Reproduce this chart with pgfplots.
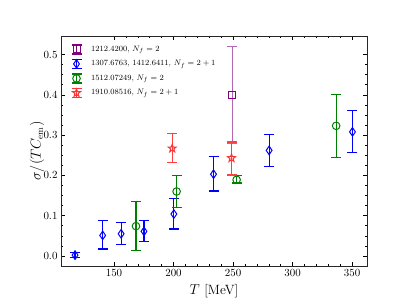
\documentclass[border=0pt]{standalone}
\usepackage{pgfplots}
\pgfplotsset{compat=1.18}
\usetikzlibrary{plotmarks}
\definecolor{mpurple}{RGB}{128,0,128}
\definecolor{mgreen}{RGB}{0,128,0}
\definecolor{mblue}{RGB}{0,0,255}
\definecolor{mred}{RGB}{255,0,0}
\pgfdeclareplotmark{ostar}{%
  \pgfpathmoveto{\pgfpointpolar{90}{\pgfplotmarksize}}%
  \pgfpathlineto{\pgfpointpolar{126}{0.4\pgfplotmarksize}}%
  \pgfpathlineto{\pgfpointpolar{162}{\pgfplotmarksize}}%
  \pgfpathlineto{\pgfpointpolar{198}{0.4\pgfplotmarksize}}%
  \pgfpathlineto{\pgfpointpolar{234}{\pgfplotmarksize}}%
  \pgfpathlineto{\pgfpointpolar{270}{0.4\pgfplotmarksize}}%
  \pgfpathlineto{\pgfpointpolar{306}{\pgfplotmarksize}}%
  \pgfpathlineto{\pgfpointpolar{342}{0.4\pgfplotmarksize}}%
  \pgfpathlineto{\pgfpointpolar{18}{\pgfplotmarksize}}%
  \pgfpathlineto{\pgfpointpolar{54}{0.4\pgfplotmarksize}}%
  \pgfpathclose\pgfusepathqstroke}
\pgfplotsset{
  errleg/.style={legend image code/.code={
    \draw[##1,line width=1.2bp] (0bp,-4.5bp) -- (0bp,4.5bp);
    \draw[##1,line width=1.2bp] (-5bp,4.5bp) -- (5bp,4.5bp);
    \draw[##1,line width=1.2bp] (-5bp,-4.5bp) -- (5bp,-4.5bp);
    \draw[##1] plot coordinates {(0bp,0bp)};
    \path (12bp,0bp);
  }},
}
\pgfplotstableread{
x y ep em
117.3 0.002 0.006 0.006
140.5 0.051 0.037 0.034
156.0 0.055 0.027 0.027
175.2 0.061 0.026 0.026
200.3 0.104 0.039 0.037
233.6 0.203 0.043 0.042
280.3 0.262 0.040 0.039
350.3 0.308 0.053 0.052
}\blue
\pgfplotstableread{
x y ep em
168.5 0.074 0.061 0.061
202.6 0.160 0.040 0.040
253.0 0.189 0.010 0.008
336.6 0.323 0.077 0.078
}\green
\pgfplotstableread{
x y ep em
198.9 0.267 0.036 0.035
248.7 0.243 0.040 0.042
}\red
\pgfplotstableread{
x y ep em
249.5 0.400 0.119 0.120
}\purple
\begin{document}
\begin{tikzpicture}
\begin{axis}[
  name=ax,
  scale only axis, width=306bp, height=230bp,
  xmin=105.5, xmax=362.5, ymin=-0.025, ymax=0.546,
  xtick={150,200,250,300,350}, minor x tick num=4,
  ytick={0,0.1,0.2,0.3,0.4,0.5}, minor y tick num=3,
  yticklabel style={/pgf/number format/.cd,fixed,fixed zerofill,precision=1},
  tick align=inside, tick pos=both,
  major tick length=4bp, minor tick length=2bp,
  every tick/.style={black, line width=0.5bp},
  axis line style={line width=0.8bp, black!85},
  tick label style={font=\fontsize{10.5}{12}\selectfont},
  label style={font=\fontsize{13.5}{15}\selectfont},
  xlabel={$T$ [MeV]},
  ylabel={$\sigma/(TC_{\mathrm{em}})$},
  ylabel shift=-7.5bp, xlabel shift=1bp,
  legend style={draw=none, fill=none, at={(0.022,0.975)}, anchor=north west,
    font=\fontsize{8}{9}\selectfont, row sep=3.6bp},
  legend cell align=left,
  error bars/error mark=|,
]
\addplot+[only marks, mark=square, mpurple, line width=1.2bp, mark size=3.5bp, mark options={line width=1bp, mpurple, solid}, errleg,
  error bars/.cd, y dir=both, y explicit,
  error bar style={line width=1.3bp, mpurple!60},
  error mark options={mark size=5bp, line width=1.2bp, mpurple!60}]
  table[x=x, y=y, y error plus=ep, y error minus=em]{\purple};
\addlegendentry{1212.4200, $N_f=2$}
\addplot+[only marks, mark=diamond, mblue, line width=1.2bp, mark size=4.3bp, mark options={line width=1bp, mblue, solid, xscale=0.9}, errleg,
  error bars/.cd, y dir=both, y explicit,
  error bar style={line width=1.2bp, mblue},
  error mark options={mark size=5bp, line width=1.2bp, mblue}]
  table[x=x, y=y, y error plus=ep, y error minus=em]{\blue};
\addlegendentry{1307.6763, 1412.6411, $N_f=2+1$}
\addplot+[only marks, mark=o, mgreen, line width=1.2bp, mark size=3.8bp, mark options={line width=1bp, mgreen, solid}, errleg,
  error bars/.cd, y dir=both, y explicit,
  error bar style={line width=1.2bp, mgreen},
  error mark options={mark size=5bp, line width=1.2bp, mgreen}]
  table[x=x, y=y, y error plus=ep, y error minus=em]{\green};
\addlegendentry{1512.07249, $N_f=2$}
\addplot+[only marks, mark=ostar, mred!80, line width=1.2bp, mark size=4.2bp, mark options={line width=1bp, mred!80, solid}, errleg,
  error bars/.cd, y dir=both, y explicit,
  error bar style={line width=1.2bp, mred!75},
  error mark options={mark size=5bp, line width=1.2bp, mred!75}]
  table[x=x, y=y, y error plus=ep, y error minus=em]{\red};
\addlegendentry{1910.08516, $N_f=2+1$}
\end{axis}
\path (ax.south west) ++(-61bp,-39bp) rectangle ([shift={(40bp,36bp)}]ax.north east);
\end{tikzpicture}
\end{document}
